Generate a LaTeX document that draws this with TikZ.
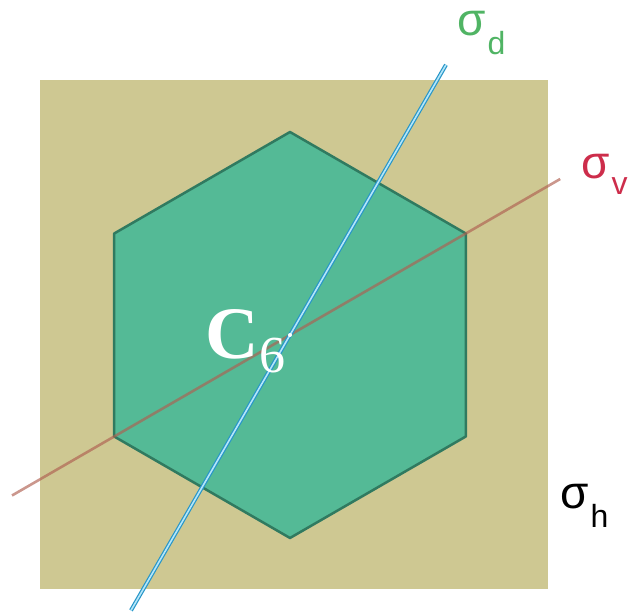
\documentclass[tikz,border=0pt]{standalone}
\usepackage{fontspec}
\setsansfont{Liberation Sans}
\newfontfamily\symserif{Liberation Serif}
\usetikzlibrary{positioning}
\definecolor{khaki}{RGB}{206,200,146}
\definecolor{hexfill}{RGB}{84,186,150}
\definecolor{hexedge}{RGB}{48,122,96}
\definecolor{planev}{RGB}{175,95,80}
\definecolor{planed}{RGB}{40,150,200}
\definecolor{labd}{RGB}{80,180,100}
\definecolor{labv}{RGB}{205,45,75}

\begin{document}
\begin{tikzpicture}[x=1pt,y=1pt,
  lab/.style={font=\sffamily\fontsize{46}{46}\selectfont,inner sep=0pt},
  sub/.style={font=\sffamily\fontsize{32}{32}\selectfont,inner sep=0pt},
  vplane/.style={draw=planev,opacity=0.65,line width=2.6pt},
  dplane/.style={draw=planed,double=white!70!cyan,double distance=1.6pt,line width=1.2pt}
]
  \useasboundingbox (-290,-277) rectangle (344,335);
  \fill[khaki] (-250,-254) rectangle (258,255);

  \coordinate (ctr) at (0,0);
  \foreach \k in {0,...,5}
    \coordinate (h\k) at (90+60*\k:203);
  \filldraw[fill=hexfill,draw=hexedge,line width=2.5pt,line join=round]
    (h0)--(h1)--(h2)--(h3)--(h4)--(h5)--cycle;

  \coordinate (v1) at (210:321);
  \coordinate (v2) at (30:312);
  \coordinate (d1) at (240:318);
  \coordinate (d2) at (60:312);
  \draw[vplane] (v1)--(v2);
  \draw[dplane] (d1)--(d2);
  \fill[white] (ctr) circle (2pt);

  \node[text=white,inner sep=0pt,font=\symserif\bfseries\fontsize{74}{74}\selectfont] (cc) at (-58,1) {C};
  \node[text=white,inner sep=0pt,font=\symserif\fontsize{52}{52}\selectfont] (c6) at (-18,-21) {6};

  \node[lab,text=labd] (sd) at (182,311) {σ};
  \node[sub,text=labd,right=1pt of sd.south east,anchor=west,yshift=-6pt] (sdd) {d};
  \node[lab,text=labv] (sv) at (306,168) {σ};
  \node[sub,text=labv,right=1pt of sv.south east,anchor=west,yshift=-6pt] (svv) {v};
  \node[lab,text=black] (sh) at (285,-162) {σ};
  \node[sub,text=black,right=1pt of sh.south east,anchor=west,yshift=-6pt] (shh) {h};
\end{tikzpicture}
\end{document}
